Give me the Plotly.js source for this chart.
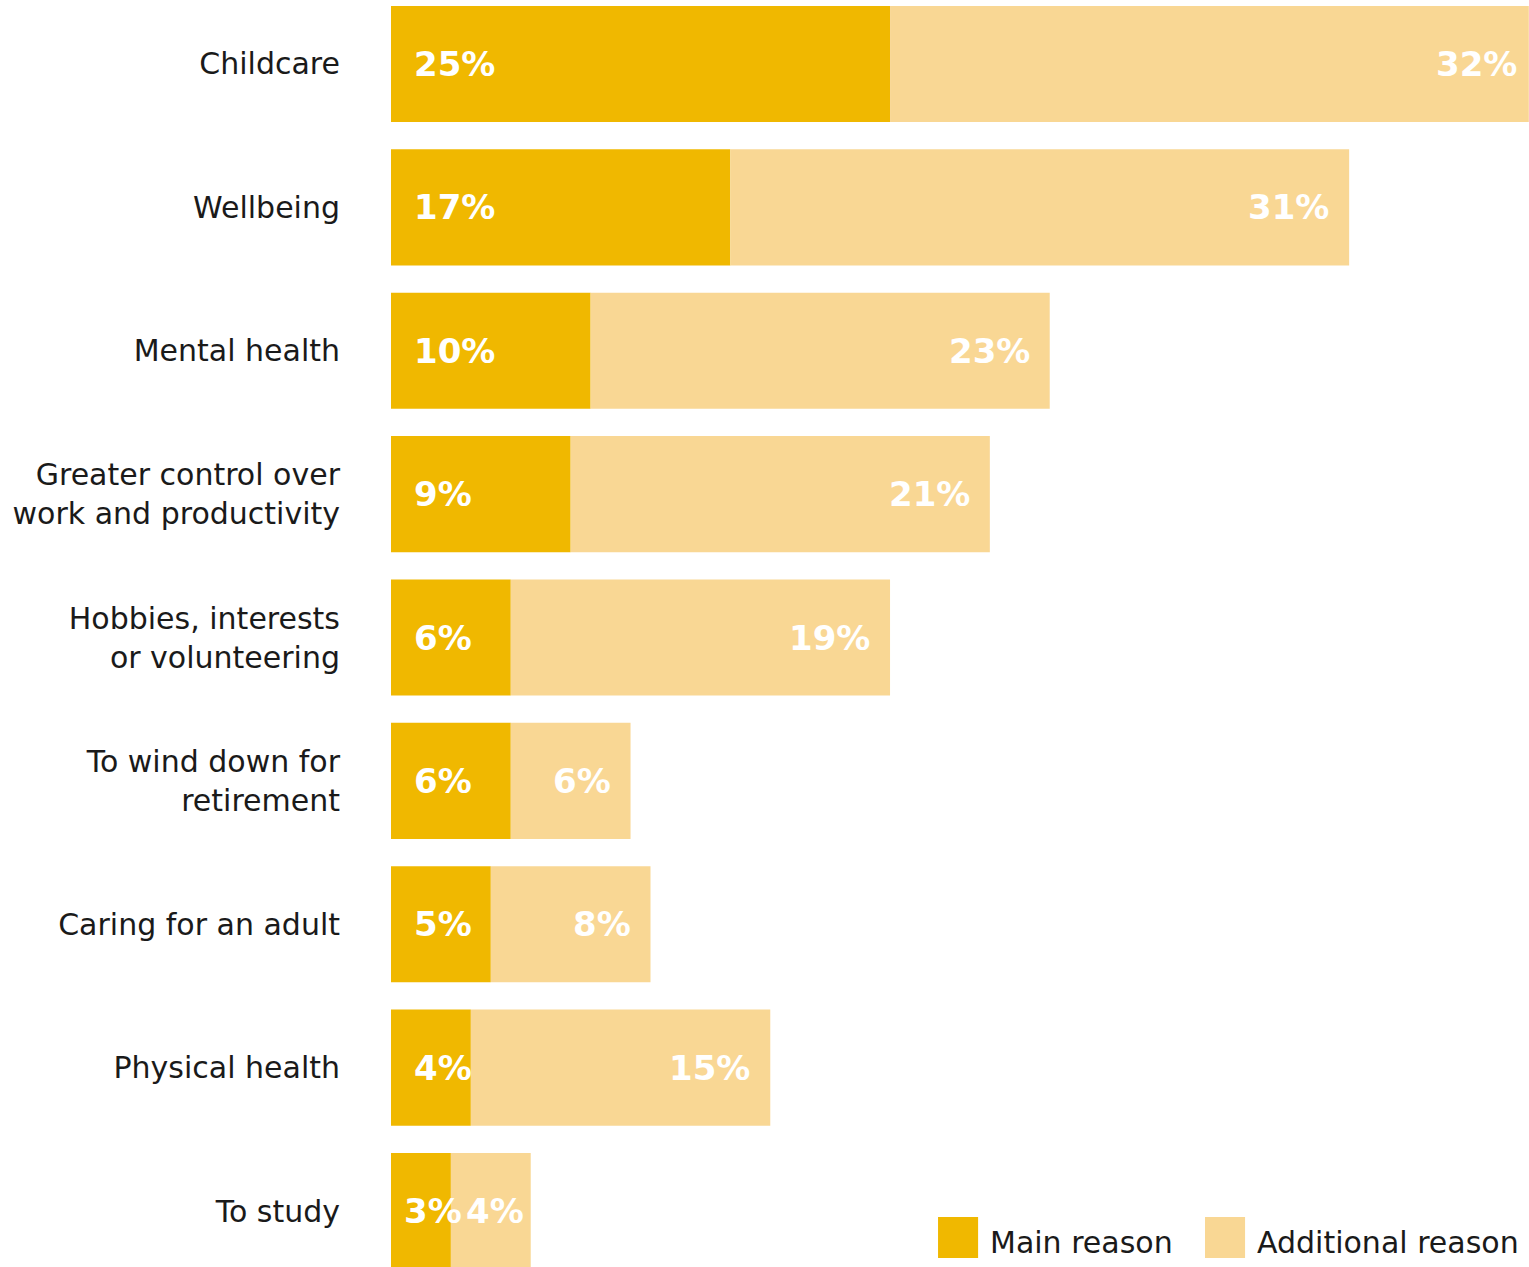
<!DOCTYPE html>
<html>
<head>
<meta charset="utf-8">
<script src="https://cdn.plot.ly/plotly-3.0.1.min.js"></script>
<style>
  html, body { margin: 0; padding: 0; background: #ffffff; }
  #chart { width: 1529px; height: 1267px; }
</style>
</head>
<body>
<div id="chart"></div>
<script>
// ---- Data ----
const categories = [
  "Childcare",
  "Wellbeing",
  "Mental health",
  "Greater control over<br>work and productivity",
  "Hobbies, interests<br>or volunteering",
  "To wind down for<br>retirement",
  "Caring for an adult",
  "Physical health",
  "To study"
];
const mainReason = [25, 17, 10, 9, 6, 6, 5, 4, 3];
const additionalReason = [32, 31, 23, 21, 19, 6, 8, 15, 4];
const seriesNames = ["Main reason", "Additional reason"];

// ---- Styles ----
const mainColor = "#F0B800";
const addColor = "#F9D794";
const textColor = "#1a1a1a";
const fontFamily = "DejaVu Sans, sans-serif";

const traces = [
  {
    type: "bar", orientation: "h", name: seriesNames[0],
    y: categories, x: mainReason,
    marker: { color: mainColor, line: { width: 0 } },
    hoverinfo: "skip", showlegend: false
  },
  {
    type: "bar", orientation: "h", name: seriesNames[1],
    y: categories, x: additionalReason, base: mainReason,
    marker: { color: addColor, line: { width: 0 } },
    hoverinfo: "skip", showlegend: false
  }
];

const annotations = [];
categories.forEach((c, i) => {
  annotations.push({
    x: 0, y: c, xref: "x", yref: "y",
    text: "<b>" + mainReason[i] + "%</b>",
    showarrow: false, xanchor: "left", yanchor: "middle",
    xshift: mainReason[i] <= 3 ? 11 : 21,
    font: { family: fontFamily, size: 34, color: "#ffffff" }
  });
  annotations.push({
    x: mainReason[i] + additionalReason[i], y: c, xref: "x", yref: "y",
    text: "<b>" + additionalReason[i] + "%</b>",
    showarrow: false, xanchor: "right", yanchor: "middle",
    xshift: additionalReason[i] <= 4 ? -5 : (i === 0 ? -10 : -18),
    font: { family: fontFamily, size: 34, color: "#ffffff" }
  });
});

// legend built from shapes + annotations
const legendX = [0.4807, 0.7153];
const legendColors = [mainColor, addColor];
const shapes = [];
seriesNames.forEach((n, k) => {
  shapes.push({
    type: "rect", xref: "paper", yref: "paper",
    x0: legendX[k], x1: legendX[k] + 0.0352,
    y0: 0.0071, y1: 0.0395,
    fillcolor: legendColors[k], line: { width: 0 }
  });
  annotations.push({
    xref: "paper", yref: "paper",
    x: legendX[k] + 0.0440, y: 0.0195,
    text: n, showarrow: false, xanchor: "left", yanchor: "middle",
    font: { family: fontFamily, size: 30, color: textColor }
  });
});

const layout = {
  width: 1529, height: 1267,
  margin: { l: 391, r: 0, t: 0, b: 0, pad: 0 },
  paper_bgcolor: "#ffffff", plot_bgcolor: "#ffffff",
  barmode: "overlay",
  bargap: 0.19,
  showlegend: false,
  xaxis: {
    range: [0, 57.01], visible: false, fixedrange: true
  },
  yaxis: {
    type: "category",
    categoryorder: "array", categoryarray: categories,
    range: [8.39, -0.446],
    showgrid: false, zeroline: false, showline: false,
    ticks: "", ticklabelstandoff: 50,
    tickfont: { family: fontFamily, size: 30, color: textColor },
    fixedrange: true
  },
  font: { family: fontFamily, color: textColor },
  annotations: annotations,
  shapes: shapes
};

Plotly.newPlot("chart", traces, layout, { displayModeBar: false, staticPlot: true });
</script>
</body>
</html>
